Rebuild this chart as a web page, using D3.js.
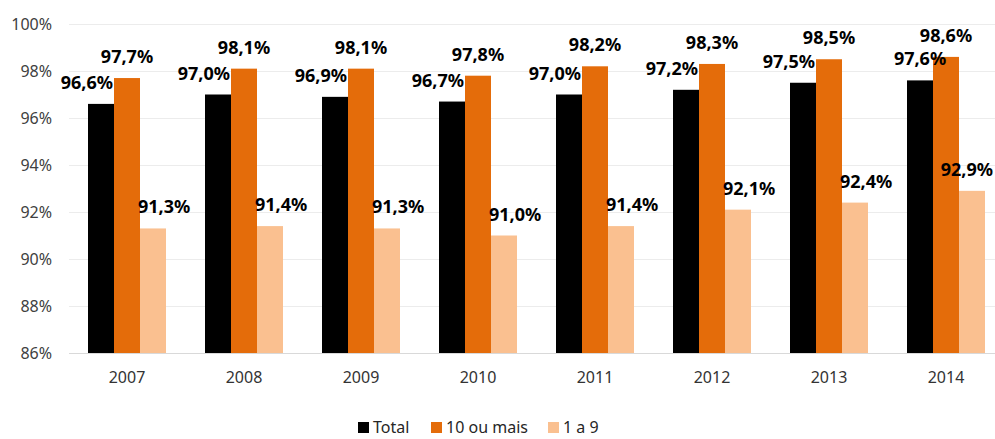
<!DOCTYPE html>
<html>
<head>
<meta charset="utf-8">
<script src="https://cdn.jsdelivr.net/npm/d3@7"></script>
<style>
  html, body { margin: 0; padding: 0; background: #fff; }
  svg { display: block; font-family: "Noto Sans", "Open Sans", sans-serif; }
</style>
</head>
<body>
<svg id="chart" width="995" height="439"></svg>
<script>
// Anos e séries (percentuais)
const years = ["2007", "2008", "2009", "2010", "2011", "2012", "2013", "2014"];
const seriesNames = ["Total", "10 ou mais", "1 a 9"];
const total     = [96.6, 97.0, 96.9, 96.7, 97.0, 97.2, 97.5, 97.6];
const dezOuMais = [97.7, 98.1, 98.1, 97.8, 98.2, 98.3, 98.5, 98.6];
const umANove   = [91.3, 91.4, 91.3, 91.0, 91.4, 92.1, 92.4, 92.9];
const yTicks    = [86, 88, 90, 92, 94, 96, 98, 100];
const colors    = ["#000000", "#E46C0A", "#FAC090"];

const seriesValues = [total, dezOuMais, umANove];
const rows = years.map((y, i) => ({
  year: y,
  values: seriesNames.map((s, k) => ({ series: s, k, value: seriesValues[k][i] }))
}));

const svg = d3.select("#chart");
const W = 995;
const plotLeft = 69, plotRight = W, plotTop = 24, plotBottom = 353;

// Grupos de barras: primeiro começa em 88, último termina em 985
const x = d3.scaleBand().domain(years).range([88, 985]).paddingInner(1 / 3).paddingOuter(0);
const xs = d3.scaleBand().domain(seriesNames).range([0, x.bandwidth()]);
const y = d3.scaleLinear().domain([86, 100]).range([plotBottom, plotTop]);

const fmt = v => d3.format(".1f")(v).replace(".", ",") + "%";

// Linhas de grade
svg.append("g").selectAll("line").data(yTicks).join("line")
  .attr("x1", plotLeft).attr("x2", plotRight)
  .attr("y1", d => Math.round(y(d)) + 0.5).attr("y2", d => Math.round(y(d)) + 0.5)
  .attr("stroke", d => d === 86 ? "#d9d9d9" : "#ececec").attr("stroke-width", 1);

// Eixo Y
const yAxis = svg.append("g").attr("transform", `translate(${plotLeft},0)`)
  .call(d3.axisLeft(y).tickValues(yTicks).tickSize(0).tickPadding(17).tickFormat(d => d + "%"));
yAxis.select(".domain").remove();
yAxis.selectAll("text").attr("font-size", 16).attr("fill", "#404040")
  .attr("font-family", "'Noto Sans', sans-serif");

// Eixo X
const xAxis = svg.append("g").attr("transform", `translate(0,${plotBottom})`)
  .call(d3.axisBottom(x).tickSize(0).tickPadding(19));
xAxis.select(".domain").remove();
xAxis.selectAll("text").attr("font-size", 16).attr("fill", "#333333")
  .attr("font-family", "'Noto Sans', sans-serif");

// Barras
const groups = svg.append("g").selectAll("g").data(rows).join("g")
  .attr("transform", d => `translate(${x(d.year)},0)`);

groups.selectAll("rect").data(d => d.values).join("rect")
  .attr("x", d => xs(d.series))
  .attr("width", xs.bandwidth())
  .attr("y", d => y(d.value))
  .attr("height", d => y(86) - y(d.value))
  .attr("fill", d => colors[d.k]);

// Rótulos de dados (no último grupo, o rótulo de "1 a 9" é encostado à margem direita)
const lastYear = years[years.length - 1];
groups.each(function(row) {
  const isLast = row.year === lastYear;
  const gx = x(row.year);
  d3.select(this).selectAll("text").data(row.values).join("text")
    .attr("x", d => {
      const x0 = xs(d.series), w = xs.bandwidth();
      if (isLast && d.k === 2) return W - 2 - gx;
      if (isLast || d.k === 1) return x0 + w / 2;
      return d.k === 0 ? x0 + w - 1 : x0 - 2;
    })
    .attr("text-anchor", d => (isLast && d.k === 2) ? "end"
      : (isLast || d.k === 1) ? "middle" : (d.k === 0 ? "end" : "start"))
    .attr("y", d => y(d.value) - 15)
    .attr("font-size", 18).attr("font-weight", "bold").attr("fill", "#000")
    .text(d => fmt(d.value));
});

// Legenda
const legendItems = [
  { name: "Total", x: 358 },
  { name: "10 ou mais", x: 431 },
  { name: "1 a 9", x: 548 }
];
const legend = svg.append("g").selectAll("g").data(legendItems).join("g")
  .attr("transform", d => `translate(${d.x},422)`);
legend.append("rect").attr("width", 11).attr("height", 11)
  .attr("fill", (d, i) => colors[i]);
legend.append("text").attr("x", 15).attr("y", 11)
  .attr("font-size", 16).attr("fill", "#262626")
  .text(d => d.name);
</script>
</body>
</html>
